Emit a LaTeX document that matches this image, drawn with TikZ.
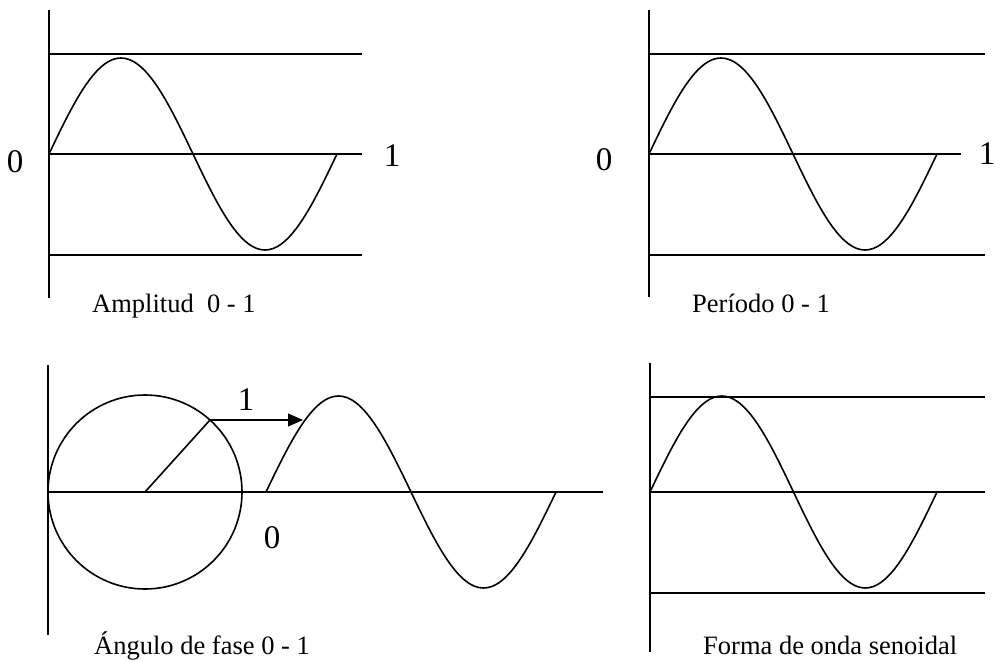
\documentclass[tikz,border=0pt]{standalone}
\usepackage{fontspec}
\setmainfont{Liberation Serif}
\usetikzlibrary{arrows.meta}
\begin{document}
\begin{tikzpicture}[x=1pt,y=-1pt,
  ln/.style={line width=1.6pt},
  wave/.style={line width=1.6pt,line join=round},
  numtxt/.style={inner sep=0pt,font=\fontsize{33}{36}\selectfont},
  captxt/.style={inner sep=0pt,anchor=base west,font=\fontsize{26.5}{30}\selectfont}]
\useasboundingbox (0,0) rectangle (995,661);
% ---------- top-left: Amplitud
\draw[ln] (49,10) -- (49,298);
\draw[ln] (49,54) -- (362,54);
\draw[ln] (49,154) -- (362,154);
\draw[ln] (49,255) -- (362,255);
\draw[wave] plot[domain=0:360,samples=73,smooth] ({49+\x/360*288},{154-96*sin(\x)});
\node[numtxt] (a0) at (15,162) {0};
\node[numtxt] (a1) at (392,156) {1};
\node[captxt] (acap) at (92,312) {Amplitud\ \ 0 - 1};
% ---------- top-right: Periodo
\draw[ln] (649,10) -- (649,297);
\draw[ln] (649,54) -- (985,54);
\draw[ln] (649,154) -- (961,154);
\draw[ln] (649,255) -- (985,255);
\draw[wave] plot[domain=0:360,samples=73,smooth] ({649+\x/360*288},{154-96*sin(\x)});
\node[numtxt] (p0) at (604,160) {0};
\node[numtxt] (p1) at (987,154) {1};
\node[captxt] (pcap) at (692,312) {Período 0 - 1};
% ---------- bottom-left: Angulo de fase
\draw[ln] (48,365) -- (48,635);
\draw[ln] (48,492) -- (603,492);
\coordinate (c) at (145,492);
\coordinate (p) at (210,420);
\coordinate (q) at (303,420);
\draw[ln] (c) circle[radius=97pt];
\draw[ln] (c) -- (p);
\draw[line width=1.2pt,-{Triangle[length=15pt,width=13pt]}] (p) -- (q);
\draw[wave] plot[domain=0:360,samples=73,smooth] ({266+\x/360*290},{492-96*sin(\x)});
\node[numtxt] (f1) at (246,400) {1};
\node[numtxt] (f0) at (272,538) {0};
\node[captxt] (fcap) at (94,654) {Ángulo de fase 0 - 1};
% ---------- bottom-right: Forma de onda
\draw[ln] (650,363) -- (650,652);
\draw[ln] (650,397) -- (985,397);
\draw[ln] (650,492) -- (985,492);
\draw[ln] (650,593) -- (985,593);
\draw[wave] plot[domain=0:360,samples=73,smooth] ({650+\x/360*287},{492-96*sin(\x)});
\node[captxt] (scap) at (703,654) {Forma de onda senoidal};
\end{tikzpicture}
\end{document}
